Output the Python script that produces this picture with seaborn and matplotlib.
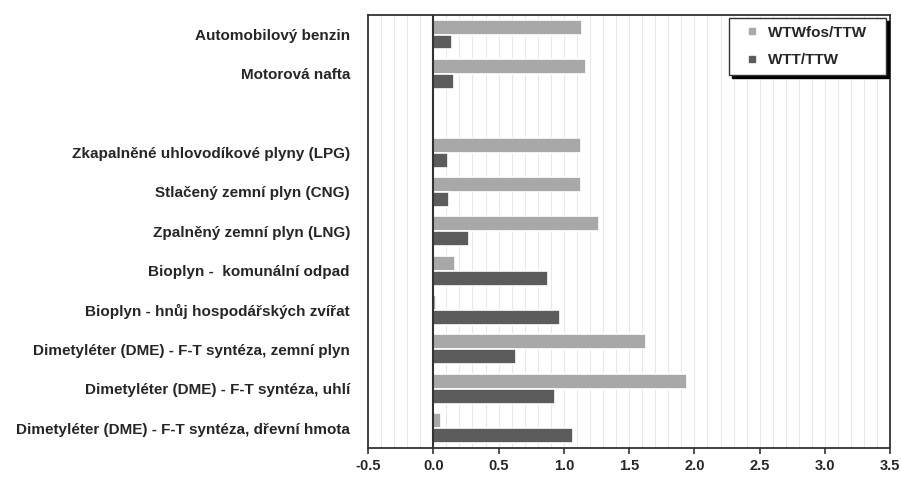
import pandas as pd
import seaborn as sns
import matplotlib.pyplot as plt
from matplotlib.lines import Line2D
from matplotlib.ticker import MultipleLocator

# Data
paliva = [
    'Automobilový benzin',
    'Motorová nafta',
    ' ',  # empty slot in the original chart
    'Zkapalněné uhlovodíkové plyny (LPG)',
    'Stlačený zemní plyn (CNG)',
    'Zpalněný zemní plyn (LNG)',
    'Bioplyn -  komunální odpad',
    'Bioplyn - hnůj hospodářských zvířat',
    'Dimetyléter (DME) - F-T syntéza, zemní plyn',
    'Dimetyléter (DME) - F-T syntéza, uhlí',
    'Dimetyléter (DME) - F-T syntéza, dřevní hmota',
]
wtw_fos = [1.14, 1.17, None, 1.13, 1.13, 1.27, 0.17, 0.02, 1.63, 1.94, 0.06]
wtt = [0.14, 0.16, None, 0.11, 0.12, 0.27, 0.88, 0.97, 0.63, 0.93, 1.07]
serie = ['WTWfos/TTW', 'WTT/TTW']
barvy = ['#a8a8a8', '#5c5c5c']

rows = []
for p, a, b in zip(paliva, wtw_fos, wtt):
    if a is None:
        continue
    rows.append({'Palivo': p, 'Hodnota': a, 'Řada': serie[0]})
    rows.append({'Palivo': p, 'Hodnota': b, 'Řada': serie[1]})
df = pd.DataFrame(rows)

sns.set_style('white')
plt.rcParams['font.family'] = ['Liberation Sans', 'DejaVu Sans']
plt.rcParams['font.weight'] = 'bold'

fig, ax = plt.subplots(figsize=(9.02, 4.79), dpi=100)
fig.subplots_adjust(left=0.408, right=0.987, top=0.969, bottom=0.065)

sns.barplot(data=df, y='Palivo', x='Hodnota', hue='Řada', order=paliva,
            hue_order=serie, palette=barvy, orient='h', width=0.76,
            edgecolor='white', linewidth=1.2, saturation=1, ax=ax, zorder=3)

ax.set_xlim(-0.5, 3.5)
ax.set_ylim(len(paliva) - 0.5, -0.5)
ax.xaxis.set_major_locator(MultipleLocator(0.5))
ax.xaxis.set_minor_locator(MultipleLocator(0.1))
ax.set_xticklabels([f'{v:.1f}' for v in ax.get_xticks()])
ax.grid(axis='x', which='both', color='#e8e8e8', linewidth=0.7, zorder=0)
ax.grid(axis='y', visible=False)
ax.axvline(0, color='#333333', linewidth=1.5, zorder=4)

ax.set_xlabel('')
ax.set_ylabel('')
for s in ax.spines.values():
    s.set_visible(True)
    s.set_color('#333333')
    s.set_linewidth(1.3)

ax.tick_params(axis='x', which='major', direction='out', length=4, width=1.2,
               color='#333333', pad=4, labelsize=10.5, bottom=True)
ax.tick_params(axis='x', which='minor', length=0)
ax.tick_params(axis='y', length=0, pad=13, labelsize=11)
for t in ax.get_yticklabels() + ax.get_xticklabels():
    t.set_fontweight('bold')

# small square markers like the original legend
handles = [Line2D([], [], marker='s', linestyle='', markersize=5,
                  markerfacecolor=c, markeredgecolor=c) for c in barvy]
leg = ax.legend(handles, [s + '   ' for s in serie], loc='upper right',
                bbox_to_anchor=(0.992, 0.993),
                frameon=True, fancybox=False,
                shadow={'color': 'black', 'alpha': 1},
                handlelength=1.9, handletextpad=0.1,
                borderpad=0.5, labelspacing=0.9, borderaxespad=0,
                prop={'weight': 'bold', 'size': 11})
leg.get_frame().set_edgecolor('#333333')
leg.get_frame().set_linewidth(1.0)
leg.set_zorder(10)

plt.savefig('out.png', dpi=100)
